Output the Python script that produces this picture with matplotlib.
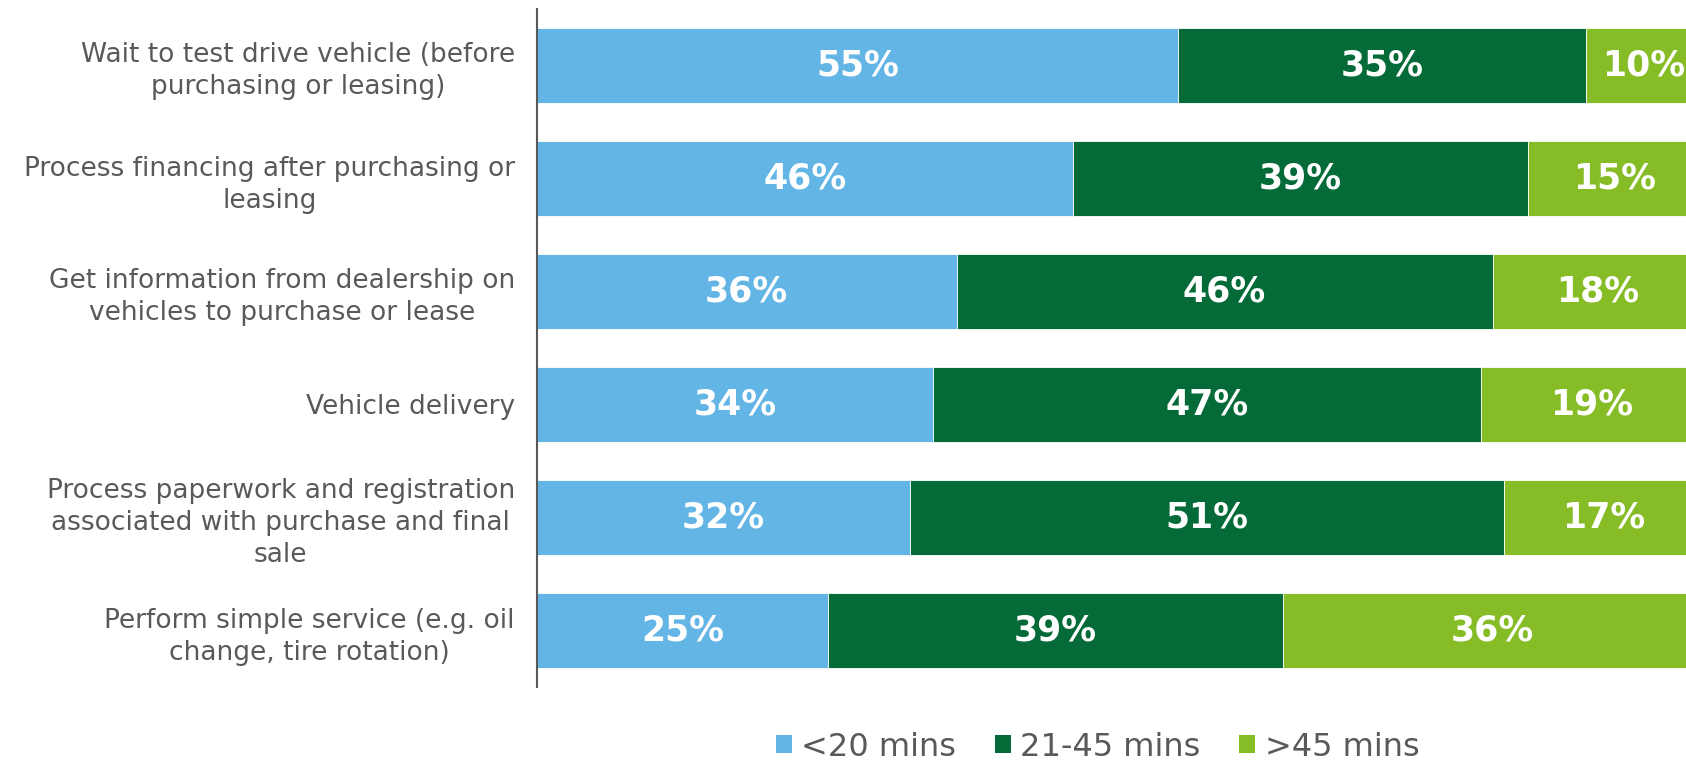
import matplotlib.pyplot as plt
import numpy as np

categories = [
    "Wait to test drive vehicle (before\npurchasing or leasing)",
    "Process financing after purchasing or\nleasing",
    "Get information from dealership on\nvehicles to purchase or lease",
    "Vehicle delivery",
    "Process paperwork and registration\nassociated with purchase and final\nsale",
    "Perform simple service (e.g. oil\nchange, tire rotation)",
]
under_20 = [55, 46, 36, 34, 32, 25]
mid_21_45 = [35, 39, 46, 47, 51, 39]
over_45 = [10, 15, 18, 19, 17, 36]
series_names = ["<20 mins", "21-45 mins", ">45 mins"]
colors = ["#62B5E5", "#046A38", "#86BC25"]

plt.rcParams['font.family'] = ['DejaVu Sans']

fig = plt.figure(figsize=(16.86, 7.61), dpi=100)
ax = fig.add_axes([537 / 1686, 1 - 687 / 761, 1 - 537 / 1686, (687 - 9) / 761])

y = np.arange(len(categories))
left = np.zeros(len(categories))
for vals, name, col in zip([under_20, mid_21_45, over_45], series_names, colors):
    vals = np.array(vals)
    bars = ax.barh(y, vals, left=left, height=0.665, color=col, label=name,
                   edgecolor='white', linewidth=0.6)
    for b, v in zip(bars, vals):
        ax.text(b.get_x() + b.get_width() / 2, b.get_y() + b.get_height() / 2,
                f"{v}%", ha='center', va='center', color='white',
                fontsize=25, fontweight='bold')
    left += vals

ax.set_xlim(0, 98.6)
ax.set_ylim(5.5, -0.5)
ax.set_yticks(y)
ax.set_yticklabels(categories, fontsize=19, color='#595959',
                   multialignment='center', linespacing=1.3)
ax.tick_params(axis='y', length=0, pad=16)
ax.set_xticks([])
for s in ['top', 'right', 'bottom']:
    ax.spines[s].set_visible(False)
ax.spines['left'].set_color('#595959')
ax.spines['left'].set_linewidth(1.5)

leg = fig.legend(loc='center', bbox_to_anchor=(0.651, 1 - 747 / 761), ncol=3,
                 frameon=False, fontsize=23, handlelength=0.5, handleheight=0.5,
                 handletextpad=0.3, columnspacing=1.2)
for t in leg.get_texts():
    t.set_color('#595959')
for h in leg.legend_handles:
    h.set_edgecolor('none')

fig.savefig('out.png', dpi=100)
